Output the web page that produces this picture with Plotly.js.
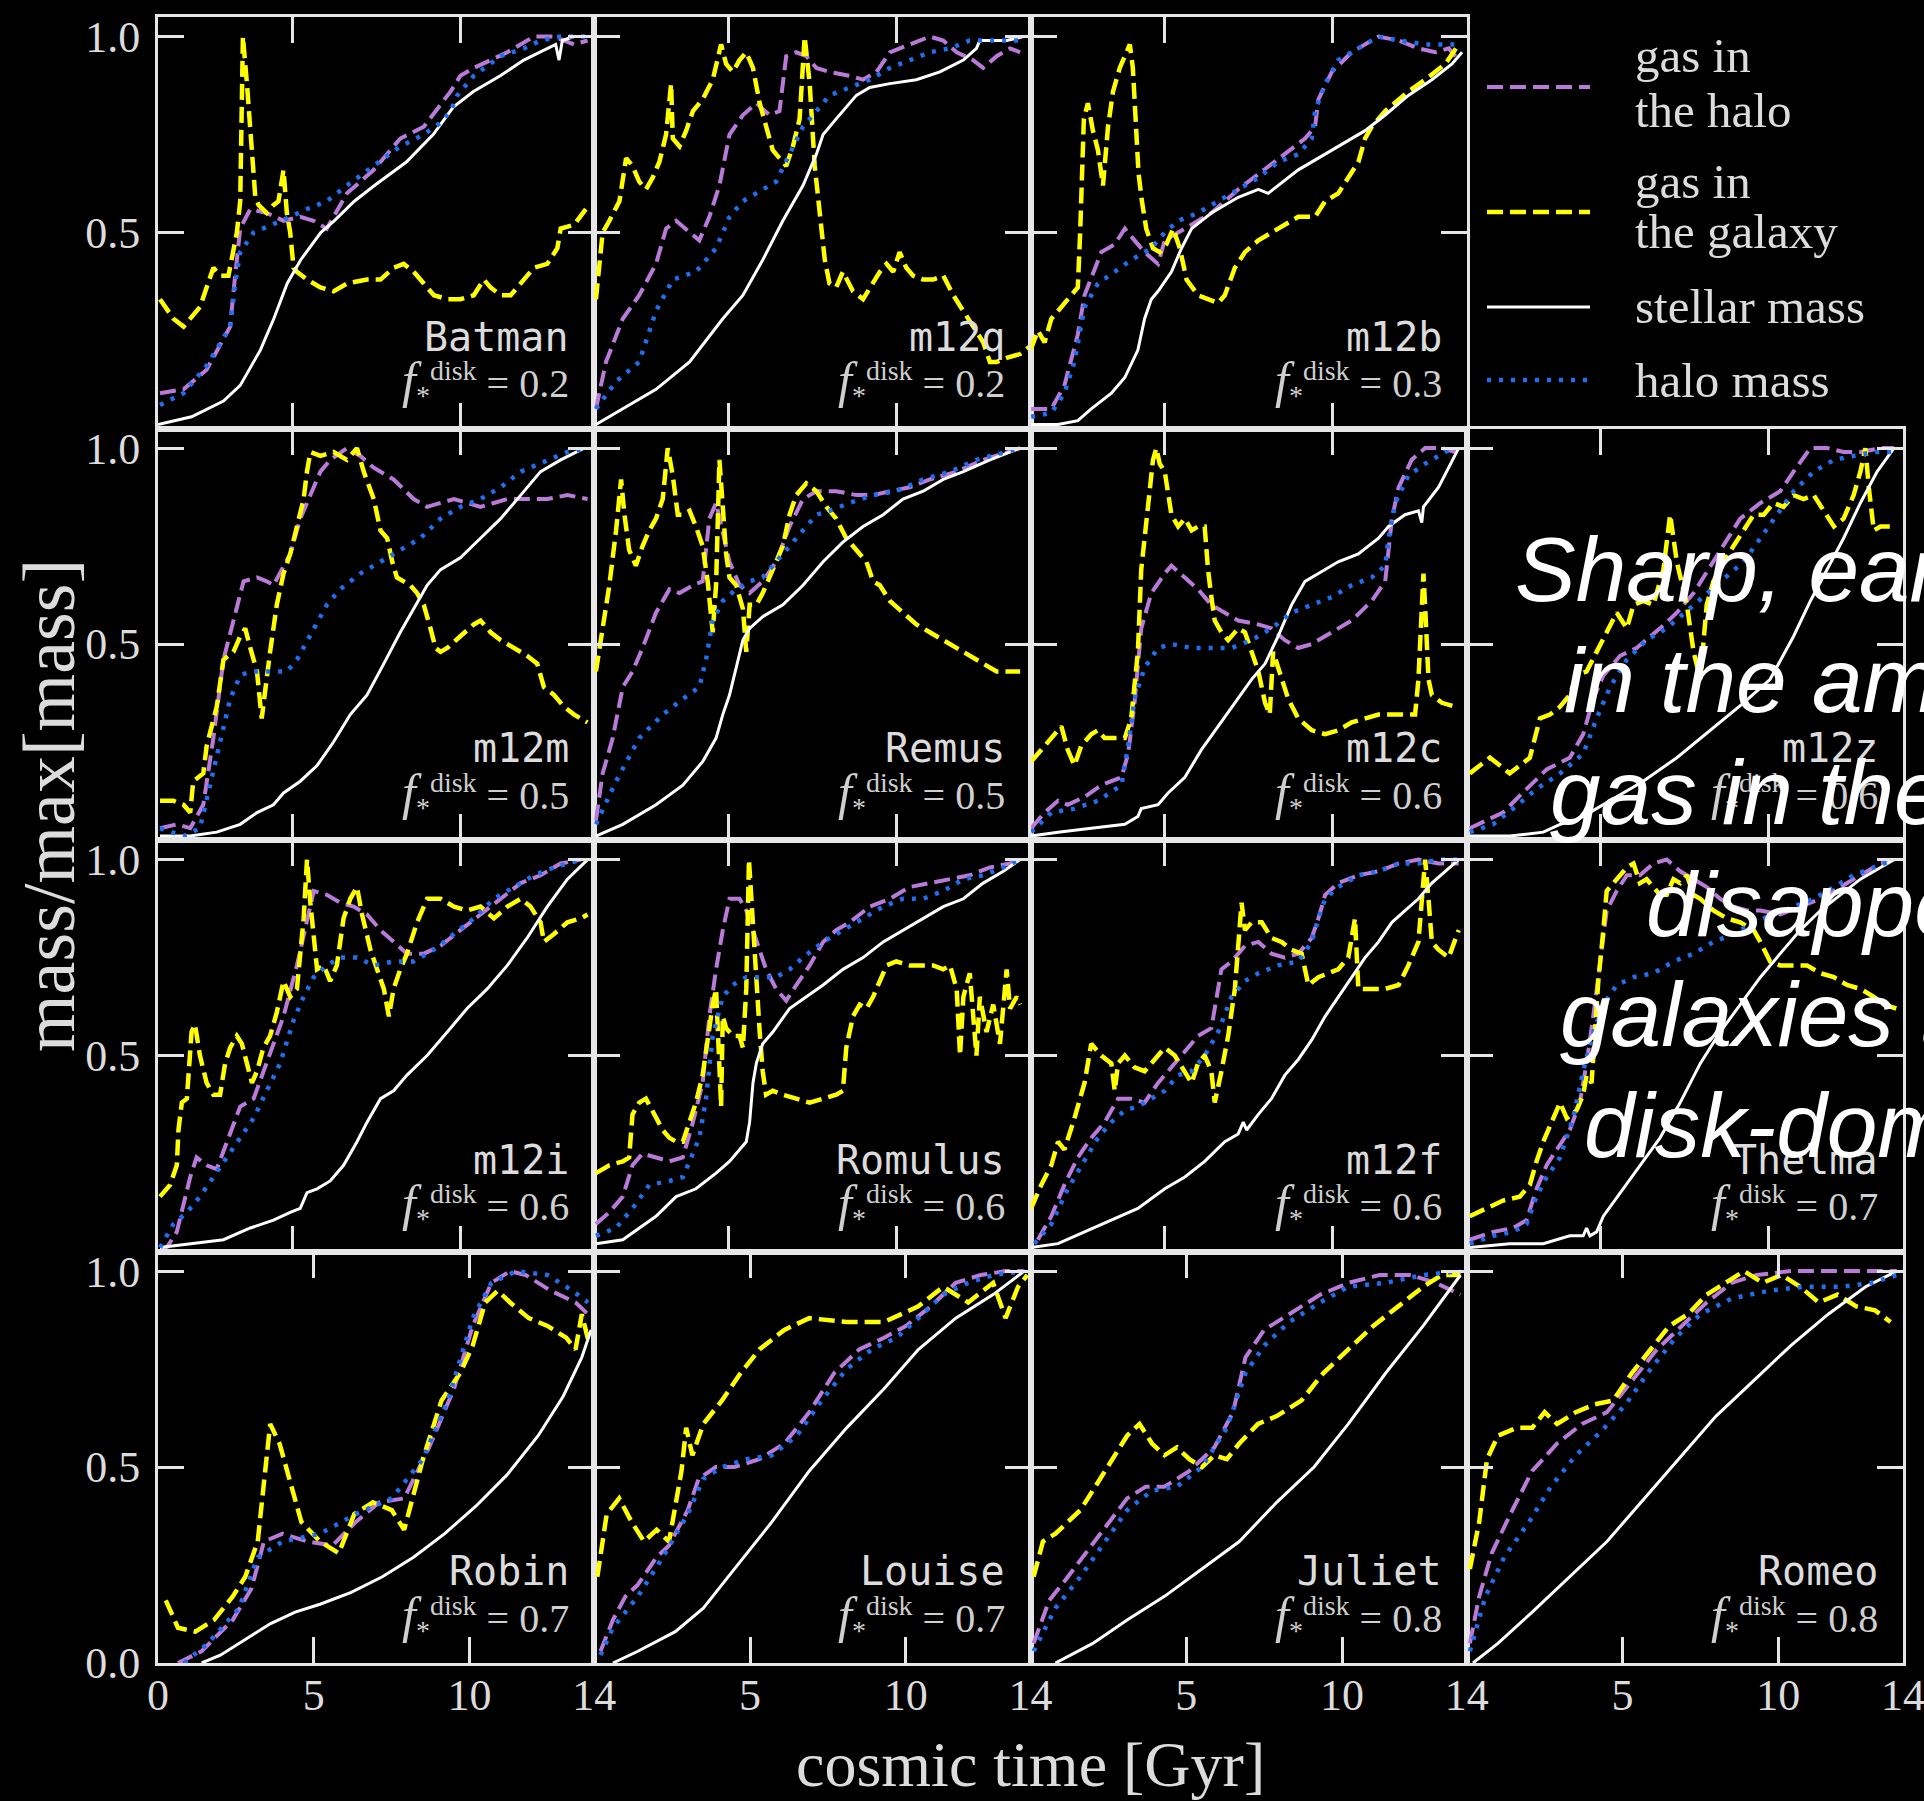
<!DOCTYPE html>
<html><head><meta charset="utf-8">
<script src="https://cdn.plot.ly/plotly-3.0.1.min.js"></script>
<style>html,body{margin:0;padding:0;background:#000;} #plot{width:1924px;height:1801px;}</style>
</head><body><div id="plot"></div>
<script>
// ---------------- DATA (cosmic time [Gyr], mass/max[mass]) ----------------
// Batman
const batman_gh_t=[1.06,1.76,2.45,3.15,3.25,3.45,3.75,4.24,4.74,5.24,5.64,6.03,6.63,7.43,8.22,8.92,9.72,10.01,10.41,11.41,12.2,12.8,13.4,13.8];
const batman_gh=[0.09,0.10,0.15,0.26,0.35,0.51,0.56,0.55,0.53,0.54,0.53,0.51,0.60,0.66,0.74,0.77,0.86,0.90,0.92,0.96,1.0,1.0,0.98,0.99];
const batman_gg_t=[1.06,1.46,1.76,2.25,2.65,2.85,3.1,3.25,3.35,3.45,3.53,3.65,3.8,3.9,4.0,4.24,4.44,4.59,4.74,4.84,4.94,5.04,5.14,5.44,5.84,6.23,6.63,7.23,7.63,8.02,8.32,8.62,8.92,9.22,9.62,10.01,10.41,10.71,10.91,11.21,11.51,11.81,12.2,12.6,12.9,13.0,13.4,13.75];
const batman_gg=[0.33,0.28,0.26,0.31,0.41,0.39,0.39,0.45,0.50,0.58,1.0,0.88,0.71,0.59,0.57,0.55,0.57,0.58,0.66,0.55,0.50,0.41,0.40,0.38,0.36,0.35,0.37,0.38,0.38,0.41,0.42,0.40,0.37,0.34,0.33,0.33,0.34,0.38,0.36,0.34,0.34,0.37,0.41,0.42,0.46,0.51,0.52,0.56];
const batman_st_t=[1.0,2.0,2.95,3.45,3.85,4.05,4.45,4.85,5.25,5.85,6.25,6.85,7.45,8.4,9.2,9.8,10.4,11.2,11.9,12.6,12.85,12.95,13.05,13.4,13.85];
const batman_st=[0.01,0.03,0.07,0.11,0.17,0.2,0.28,0.37,0.43,0.5,0.53,0.58,0.62,0.68,0.75,0.82,0.86,0.9,0.94,0.97,0.98,0.94,0.99,1.0,1.0];
const batman_hm_t=[1.06,1.76,2.45,3.15,3.3,3.45,3.85,4.44,4.94,5.44,6.03,6.63,7.43,8.22,8.92,9.42,9.72,9.92,10.41,11.21,11.91,12.4,13.0,13.8];
const batman_hm=[0.06,0.09,0.16,0.26,0.37,0.45,0.50,0.52,0.54,0.56,0.58,0.62,0.67,0.72,0.75,0.78,0.81,0.85,0.9,0.95,0.97,0.99,1.0,1.0];
// m12q
const m12q_gh_t=[1.05,1.35,1.85,2.34,2.84,3.14,3.44,3.84,4.13,4.43,4.73,5.03,5.43,5.83,6.22,6.52,6.72,7.02,7.32,7.62,8.01,8.61,9.01,9.41,9.81,10.4,11.0,11.4,11.8,12.29,12.59,12.99,13.39,13.69];
const m12q_gh=[0.05,0.17,0.28,0.34,0.42,0.51,0.53,0.5,0.48,0.54,0.62,0.75,0.8,0.83,0.8,0.81,0.95,0.96,0.95,0.92,0.91,0.9,0.89,0.91,0.96,0.98,1.0,0.99,0.96,0.94,0.92,0.95,0.97,0.96];
const m12q_gg_t=[1.05,1.25,1.45,1.75,1.95,2.14,2.34,2.54,2.74,2.94,3.14,3.29,3.34,3.54,3.74,3.94,4.23,4.53,4.78,4.93,5.13,5.33,5.53,5.73,5.93,6.12,6.32,6.52,6.72,6.92,7.12,7.27,7.42,7.57,7.72,7.87,8.01,8.21,8.41,8.71,9.01,9.31,9.51,9.71,9.91,10.1,10.3,10.5,10.8,11.1,11.4,11.7,12.0,12.29,12.59,12.79,12.99,13.29,13.69,13.99];
const m12q_gg=[0.33,0.5,0.53,0.58,0.69,0.67,0.63,0.61,0.64,0.68,0.75,0.88,0.74,0.72,0.76,0.81,0.84,0.89,0.98,0.93,0.91,0.94,0.96,0.92,0.83,0.77,0.71,0.69,0.67,0.72,0.79,1.0,0.88,0.67,0.54,0.43,0.37,0.36,0.4,0.35,0.33,0.37,0.4,0.42,0.4,0.45,0.41,0.39,0.38,0.38,0.39,0.34,0.3,0.26,0.22,0.17,0.17,0.18,0.19,0.21];
const m12q_st_t=[1.05,1.85,2.84,3.84,4.83,5.43,6.02,6.62,7.22,7.62,7.82,8.21,8.81,9.21,9.81,10.6,11.3,12.0,12.39,12.49,13.29,13.79];
const m12q_st=[0.01,0.05,0.1,0.17,0.28,0.34,0.43,0.53,0.62,0.7,0.75,0.79,0.85,0.87,0.88,0.89,0.91,0.94,0.97,0.99,0.99,1.0];
const m12q_hm_t=[1.05,1.65,2.34,2.84,3.34,4.03,4.63,5.03,5.43,6.02,6.42,6.82,7.22,7.62,8.01,8.61,9.21,9.81,10.4,11.0,11.6,12.19,12.79,13.79];
const m12q_hm=[0.05,0.12,0.17,0.3,0.38,0.4,0.46,0.54,0.58,0.61,0.63,0.7,0.77,0.81,0.85,0.87,0.89,0.92,0.94,0.96,0.97,0.99,0.99,0.99];
// m12b
const m12b_gh_t=[1.02,1.62,2.01,2.41,2.61,3.11,3.51,3.81,4.1,4.4,4.8,5.0,5.4,5.8,6.39,7.19,7.79,8.58,9.18,9.48,9.58,9.98,10.57,11.37,11.97,12.56,13.06,13.46,13.76];
const m12b_gh=[0.05,0.05,0.11,0.24,0.34,0.45,0.47,0.51,0.48,0.45,0.42,0.48,0.5,0.52,0.55,0.61,0.65,0.7,0.74,0.77,0.84,0.91,0.96,1.0,0.99,0.97,0.96,0.97,0.94];
const m12b_gg_t=[1.0,1.22,1.42,1.62,1.82,2.01,2.21,2.41,2.48,2.53,2.59,2.71,2.86,3.01,3.16,3.31,3.46,3.66,3.81,3.96,4.05,4.13,4.22,4.32,4.45,4.65,4.85,5.05,5.25,5.45,5.65,5.99,6.59,6.79,7.09,7.39,7.79,8.38,8.98,9.48,9.78,10.17,10.77,10.97,11.17,11.57,12.26,12.76,13.36,13.76];
const m12b_gg=[0.2,0.25,0.22,0.28,0.3,0.32,0.34,0.36,0.5,0.67,0.79,0.83,0.76,0.71,0.62,0.77,0.86,0.92,0.95,0.98,0.92,0.79,0.65,0.58,0.51,0.46,0.45,0.47,0.51,0.46,0.38,0.34,0.32,0.34,0.41,0.45,0.48,0.51,0.54,0.54,0.58,0.6,0.68,0.74,0.77,0.81,0.86,0.89,0.93,0.98];
const m12b_st_t=[1.02,1.82,2.41,2.81,3.41,3.81,4.2,4.4,4.6,4.8,5.2,5.5,5.8,6.39,7.19,7.79,8.08,8.38,8.98,9.78,10.57,10.97,11.57,12.26,12.96,13.56,13.86];
const m12b_st=[0.01,0.01,0.02,0.05,0.09,0.13,0.2,0.28,0.33,0.35,0.4,0.46,0.51,0.55,0.59,0.61,0.6,0.62,0.66,0.7,0.74,0.76,0.8,0.85,0.89,0.93,0.96];
const m12b_hm_t=[1.02,1.62,2.01,2.31,2.61,3.01,3.51,4.0,4.6,5.0,5.4,5.99,6.59,7.19,7.79,8.38,8.98,9.38,9.48,9.78,10.17,10.77,11.37,11.97,12.76,13.36,13.76];
const m12b_hm=[0.03,0.04,0.09,0.17,0.31,0.37,0.4,0.43,0.46,0.5,0.53,0.55,0.58,0.61,0.64,0.68,0.7,0.74,0.81,0.88,0.94,0.97,1.0,0.99,0.98,0.98,0.98];
// m12m
const m12m_gh_t=[1.06,1.56,1.96,2.35,2.65,2.95,3.25,3.55,3.95,4.24,4.44,4.64,4.94,5.24,5.54,5.84,6.13,6.63,7.03,7.43,8.02,8.62,9.02,9.42,9.82,10.21,10.61,11.01,11.41,12.0,12.6,13.2,13.8];
const m12m_gh=[0.03,0.04,0.03,0.09,0.26,0.46,0.56,0.66,0.67,0.66,0.65,0.68,0.73,0.82,0.88,0.94,0.97,1.0,0.98,0.95,0.92,0.87,0.85,0.86,0.87,0.86,0.85,0.86,0.87,0.87,0.87,0.88,0.87];
const m12m_gg_t=[1.06,1.46,1.76,1.96,2.05,2.35,2.45,2.6,2.75,2.95,3.25,3.45,3.6,3.75,3.95,4.09,4.19,4.34,4.54,4.74,4.94,5.14,5.34,5.44,5.54,5.84,6.23,6.63,6.93,7.13,7.43,7.63,7.83,7.98,8.12,8.32,8.52,8.72,8.92,9.12,9.27,9.42,9.62,10.01,10.41,10.61,10.91,11.21,11.61,12.0,12.3,12.5,12.8,13.1,13.4,13.8];
const m12m_gg=[0.1,0.1,0.09,0.07,0.15,0.17,0.24,0.29,0.34,0.46,0.48,0.52,0.54,0.49,0.43,0.31,0.37,0.48,0.6,0.68,0.73,0.8,0.87,0.94,0.99,0.98,0.99,0.97,1.0,0.94,0.87,0.79,0.77,0.71,0.67,0.66,0.65,0.63,0.6,0.54,0.49,0.48,0.49,0.52,0.55,0.56,0.53,0.51,0.49,0.47,0.45,0.39,0.37,0.34,0.32,0.3];
const m12m_st_t=[1.06,1.96,2.75,3.45,3.95,4.44,4.74,5.24,5.74,6.23,6.73,7.23,7.73,8.22,8.62,9.02,9.42,10.01,10.61,11.21,11.81,12.4,13.0,13.7];
const m12m_st=[0.01,0.01,0.02,0.04,0.07,0.09,0.12,0.15,0.19,0.25,0.32,0.37,0.45,0.53,0.59,0.65,0.69,0.72,0.77,0.82,0.88,0.94,0.97,1.0];
const m12m_hm_t=[1.06,1.76,2.25,2.55,2.85,3.15,3.45,3.75,4.24,4.84,5.14,5.64,6.03,6.43,7.03,7.63,8.22,8.82,9.42,10.01,10.61,11.21,11.81,12.4,13.2,13.8];
const m12m_hm=[0.03,0.01,0.03,0.14,0.26,0.36,0.42,0.43,0.43,0.43,0.46,0.54,0.6,0.64,0.68,0.71,0.74,0.77,0.82,0.85,0.87,0.9,0.94,0.96,0.99,1.0];
// Remus
const remus_gh_t=[1.05,1.25,1.55,1.85,2.14,2.44,2.84,3.24,3.54,3.94,4.23,4.43,4.63,4.83,5.03,5.33,5.63,6.02,6.42,6.82,7.22,7.62,8.21,8.81,9.31,9.81,10.4,11.0,11.8,12.59,13.39,13.69];
const remus_gh=[0.05,0.17,0.26,0.39,0.43,0.49,0.58,0.64,0.63,0.65,0.66,0.82,0.86,0.79,0.71,0.65,0.63,0.66,0.71,0.8,0.87,0.89,0.89,0.88,0.88,0.89,0.9,0.92,0.94,0.97,0.99,1.0];
const remus_gg_t=[1.05,1.25,1.45,1.65,1.8,1.9,2.04,2.24,2.44,2.64,2.84,3.04,3.19,3.34,3.49,3.64,3.84,4.03,4.23,4.38,4.53,4.63,4.73,4.83,4.93,5.03,5.23,5.43,5.53,5.63,5.83,6.02,6.22,6.42,6.62,6.82,7.02,7.32,7.62,7.92,8.21,8.51,8.81,9.11,9.31,9.51,9.81,10.2,10.6,11.0,11.4,11.8,12.19,12.59,12.99,13.39,13.69];
const remus_gg=[0.43,0.54,0.65,0.79,0.92,0.83,0.74,0.7,0.75,0.79,0.82,0.87,1.0,0.93,0.83,0.83,0.84,0.8,0.75,0.66,0.53,0.65,0.97,0.85,0.73,0.67,0.65,0.59,0.48,0.6,0.6,0.63,0.67,0.71,0.75,0.83,0.88,0.91,0.89,0.85,0.82,0.77,0.74,0.71,0.66,0.65,0.61,0.58,0.55,0.53,0.51,0.49,0.47,0.45,0.43,0.43,0.43];
const remus_st_t=[1.05,1.85,2.84,3.64,4.23,4.63,4.83,5.03,5.23,5.43,5.63,6.02,6.62,7.22,7.82,8.41,9.01,9.61,10.2,10.8,11.4,12.0,12.79,13.69];
const remus_st=[0.01,0.04,0.09,0.14,0.2,0.26,0.32,0.37,0.44,0.51,0.54,0.57,0.6,0.65,0.71,0.76,0.8,0.83,0.87,0.89,0.92,0.94,0.97,1.0];
const remus_hm_t=[1.05,1.65,2.34,3.04,3.64,4.13,4.33,4.53,4.83,5.23,5.63,6.02,6.42,6.82,7.22,7.62,8.01,8.61,9.31,10.0,10.8,11.6,12.39,13.19,13.69];
const remus_hm=[0.04,0.15,0.26,0.32,0.36,0.39,0.46,0.56,0.61,0.64,0.66,0.67,0.71,0.75,0.79,0.83,0.84,0.86,0.88,0.89,0.92,0.94,0.97,0.99,1.0];
// m12c
const m12c_gh_t=[1.02,1.42,1.82,2.11,2.61,3.11,3.71,3.91,4.1,4.3,4.6,5.0,5.2,5.6,5.99,6.39,6.79,7.19,7.79,8.18,8.58,8.98,9.38,9.98,10.57,11.17,11.57,11.77,11.97,12.36,12.76,13.26,13.66];
const m12c_gh=[0.03,0.07,0.1,0.09,0.11,0.14,0.16,0.22,0.35,0.54,0.63,0.68,0.7,0.67,0.64,0.6,0.58,0.56,0.55,0.54,0.51,0.49,0.5,0.53,0.56,0.61,0.66,0.82,0.9,0.97,1.0,1.0,0.99];
const m12c_gg_t=[1.02,1.32,1.62,1.92,2.11,2.31,2.51,2.81,3.01,3.21,3.51,3.81,4.0,4.2,4.3,4.5,4.65,4.75,4.85,5.0,5.2,5.4,5.6,5.8,5.99,6.19,6.29,6.39,6.49,6.69,6.89,7.19,7.39,7.59,7.79,7.99,8.13,8.23,8.38,8.68,8.98,9.38,9.78,10.17,10.57,10.97,11.37,11.77,12.16,12.46,12.56,12.66,12.71,12.78,12.86,12.96,13.26,13.66];
const m12c_gg=[0.2,0.23,0.26,0.29,0.23,0.19,0.24,0.27,0.28,0.26,0.26,0.26,0.31,0.48,0.69,0.86,0.97,1.0,0.96,0.94,0.83,0.8,0.82,0.79,0.8,0.8,0.69,0.62,0.56,0.53,0.51,0.54,0.53,0.48,0.43,0.35,0.32,0.48,0.44,0.36,0.31,0.28,0.27,0.28,0.3,0.31,0.32,0.32,0.32,0.32,0.41,0.56,0.68,0.56,0.41,0.37,0.35,0.34];
const m12c_st_t=[1.02,1.82,2.81,3.81,4.2,4.3,4.8,5.1,5.6,6.09,6.59,7.09,7.59,7.99,8.38,8.78,9.18,9.58,10.17,10.77,11.37,11.67,12.16,12.56,12.66,12.71,13.16,13.76];
const m12c_st=[0.01,0.02,0.03,0.04,0.06,0.08,0.09,0.12,0.16,0.23,0.29,0.35,0.41,0.45,0.52,0.6,0.66,0.68,0.71,0.73,0.77,0.8,0.83,0.84,0.81,0.85,0.9,1.0];
const m12c_hm_t=[1.02,1.62,2.31,3.01,3.71,3.91,4.1,4.4,4.8,5.2,5.8,6.39,6.99,7.59,8.18,8.78,9.38,9.98,10.57,11.17,11.57,11.67,11.87,12.26,12.76,13.36,13.66];
const m12c_hm=[0.02,0.07,0.08,0.1,0.14,0.24,0.36,0.44,0.49,0.5,0.49,0.49,0.49,0.51,0.54,0.58,0.6,0.62,0.65,0.67,0.7,0.77,0.86,0.93,0.96,0.99,1.0];
// m12z
const m12z_gh_t=[1.09,1.59,2.08,2.78,3.38,4.07,4.47,4.77,5.07,5.57,6.06,6.76,7.26,7.76,8.55,9.15,9.75,10.34,10.74,11.24,11.74,12.23,12.73,13.33,13.73];
const m12z_gh=[0.03,0.05,0.07,0.13,0.18,0.21,0.27,0.36,0.42,0.47,0.49,0.54,0.58,0.63,0.74,0.82,0.86,0.89,0.94,1.0,1.0,0.99,0.99,1.0,1.0];
const m12z_gg_t=[1.09,1.39,1.69,1.99,2.28,2.58,2.88,3.18,3.48,3.78,4.07,4.27,4.57,4.87,5.17,5.47,5.77,5.97,6.26,6.56,6.86,7.06,7.26,7.56,7.76,7.96,8.15,8.35,8.65,8.95,9.25,9.55,9.85,10.14,10.44,10.74,11.04,11.34,11.64,11.94,12.23,12.53,12.73,12.88,12.98,13.13,13.33,13.73];
const m12z_gg=[0.17,0.19,0.21,0.19,0.17,0.19,0.21,0.31,0.32,0.34,0.37,0.42,0.43,0.48,0.53,0.58,0.54,0.6,0.61,0.6,0.69,0.83,0.71,0.6,0.48,0.41,0.6,0.66,0.71,0.75,0.79,0.83,0.83,0.86,0.85,0.88,0.87,0.88,0.84,0.8,0.82,0.88,0.94,1.0,0.9,0.79,0.8,0.8];
const m12z_st_t=[1.09,2.28,3.28,3.78,4.27,5.27,6.26,7.26,8.25,9.25,10.04,10.74,11.24,11.74,12.23,12.73,13.23,13.73];
const m12z_st=[0.01,0.01,0.02,0.04,0.05,0.1,0.15,0.21,0.28,0.35,0.41,0.52,0.61,0.69,0.77,0.86,0.94,1.0];
const m12z_hm_t=[1.09,1.79,2.38,3.08,3.78,4.47,4.87,5.27,5.77,6.36,6.96,7.76,8.55,9.25,9.75,10.24,10.74,11.34,11.94,12.53,13.13,13.73];
const m12z_hm=[0.02,0.04,0.08,0.13,0.17,0.22,0.31,0.39,0.46,0.51,0.54,0.6,0.66,0.71,0.77,0.83,0.89,0.94,0.97,0.98,0.99,0.99];
// m12i
const m12i_gh_t=[1.06,1.26,1.56,1.76,1.96,2.15,2.45,2.75,3.05,3.45,3.85,4.14,4.44,4.74,5.14,5.44,5.64,6.03,6.43,6.83,7.23,7.63,8.02,8.42,8.92,9.42,10.01,10.61,11.21,11.81,12.4,13.0,13.6];
const m12i_gh=[0.01,0.01,0.05,0.12,0.19,0.24,0.22,0.21,0.28,0.37,0.39,0.46,0.53,0.6,0.73,0.85,0.92,0.91,0.89,0.88,0.86,0.82,0.79,0.76,0.76,0.78,0.82,0.86,0.9,0.94,0.96,0.99,1.0];
const m12i_gg_t=[1.06,1.36,1.56,1.61,1.71,1.86,2.0,2.1,2.25,2.45,2.65,2.85,3.0,3.15,3.35,3.5,3.65,3.8,3.95,4.14,4.34,4.54,4.74,4.94,5.14,5.34,5.44,5.54,5.74,5.94,6.13,6.33,6.53,6.73,6.93,7.08,7.33,7.53,7.73,7.88,8.02,8.22,8.42,8.72,9.02,9.42,9.82,10.21,10.61,11.01,11.41,11.81,12.1,12.4,12.5,12.8,13.2,13.6,13.8];
const m12i_gg=[0.14,0.17,0.22,0.31,0.38,0.39,0.56,0.58,0.5,0.43,0.4,0.4,0.48,0.52,0.55,0.53,0.48,0.43,0.46,0.52,0.55,0.61,0.69,0.65,0.67,0.85,1.0,0.89,0.72,0.73,0.69,0.73,0.85,0.9,0.93,0.86,0.77,0.72,0.67,0.6,0.67,0.72,0.76,0.84,0.9,0.9,0.88,0.87,0.88,0.85,0.88,0.9,0.88,0.84,0.79,0.81,0.84,0.85,0.86];
const m12i_st_t=[1.06,1.96,2.95,3.75,4.44,4.94,5.24,5.44,5.74,6.13,6.53,6.93,7.23,7.63,8.02,8.42,9.02,9.62,10.21,10.81,11.41,12.0,12.6,13.2,13.8];
const m12i_st=[0.01,0.02,0.03,0.06,0.08,0.1,0.11,0.15,0.16,0.18,0.22,0.28,0.33,0.39,0.41,0.45,0.5,0.56,0.62,0.67,0.73,0.8,0.88,0.95,1.0];
const m12i_hm_t=[1.06,1.46,1.86,2.25,2.65,3.05,3.45,3.85,4.24,4.64,5.04,5.34,5.64,6.03,6.43,6.93,7.43,8.02,8.62,9.22,9.82,10.41,11.01,11.61,12.2,12.8,13.6];
const m12i_hm=[0.01,0.07,0.1,0.14,0.19,0.24,0.29,0.34,0.41,0.48,0.59,0.65,0.7,0.73,0.75,0.75,0.73,0.74,0.74,0.77,0.81,0.85,0.9,0.93,0.96,0.98,1.0];
// Romulus
const romulus_gh_t=[1.05,1.45,1.85,2.14,2.44,2.84,3.24,3.64,3.94,4.23,4.43,4.63,4.83,5.03,5.33,5.53,5.73,5.93,6.12,6.42,6.72,7.02,7.42,7.82,8.21,8.61,9.21,9.81,10.4,11.0,11.6,12.19,12.79,13.39,13.69];
const romulus_gh=[0.07,0.1,0.14,0.22,0.25,0.24,0.23,0.24,0.33,0.43,0.6,0.72,0.82,0.9,0.9,0.87,0.82,0.77,0.72,0.67,0.64,0.68,0.73,0.79,0.82,0.84,0.88,0.9,0.93,0.94,0.95,0.96,0.98,0.99,1.0];
const romulus_gg_t=[1.05,1.45,1.85,2.04,2.14,2.34,2.54,2.74,3.04,3.24,3.44,3.64,3.84,4.03,4.23,4.38,4.53,4.63,4.73,4.78,4.83,4.93,5.13,5.33,5.43,5.53,5.61,5.73,5.83,5.93,6.02,6.12,6.32,6.62,7.02,7.42,7.82,8.21,8.41,8.51,8.71,8.91,9.11,9.31,9.51,9.71,10.0,10.4,10.8,11.1,11.4,11.6,11.8,11.9,12.0,12.19,12.39,12.49,12.69,12.89,13.09,13.29,13.39,13.59,13.69];
const romulus_gg=[0.2,0.22,0.23,0.24,0.35,0.38,0.39,0.36,0.31,0.29,0.28,0.28,0.33,0.38,0.45,0.55,0.63,0.67,0.48,0.37,0.6,0.57,0.55,0.55,0.52,0.67,1.0,0.82,0.69,0.56,0.46,0.4,0.41,0.4,0.39,0.38,0.39,0.4,0.41,0.52,0.6,0.63,0.62,0.65,0.69,0.73,0.74,0.73,0.73,0.73,0.72,0.73,0.67,0.5,0.65,0.71,0.5,0.65,0.56,0.63,0.53,0.72,0.62,0.65,0.63];
const romulus_st_t=[1.05,1.85,2.84,3.44,4.03,4.63,5.03,5.33,5.53,5.63,5.73,5.83,6.02,6.32,6.82,7.32,7.82,8.41,9.01,9.61,10.2,10.8,11.4,12.0,12.59,13.19,13.69];
const romulus_st=[0.02,0.03,0.09,0.14,0.16,0.2,0.23,0.26,0.28,0.33,0.43,0.48,0.53,0.56,0.62,0.65,0.68,0.72,0.75,0.79,0.82,0.85,0.88,0.9,0.94,0.97,1.0];
const romulus_hm_t=[1.05,1.65,2.14,2.64,3.24,3.64,3.84,4.13,4.33,4.53,4.83,5.13,5.53,6.02,6.42,6.82,7.22,7.82,8.41,9.01,9.61,10.2,10.8,11.4,12.0,12.59,13.19,13.69];
const romulus_hm=[0.04,0.06,0.11,0.17,0.18,0.19,0.23,0.29,0.39,0.55,0.65,0.68,0.7,0.7,0.7,0.72,0.75,0.79,0.82,0.85,0.88,0.9,0.9,0.92,0.95,0.96,0.98,1.0];
// m12f
const m12f_gh_t=[1.22,1.62,2.01,2.41,2.81,3.21,3.61,4.0,4.4,4.8,5.2,5.6,5.99,6.39,6.69,6.99,7.39,7.79,8.18,8.58,8.98,9.38,9.58,9.78,10.17,10.77,11.37,11.97,12.56,13.16,13.76];
const m12f_gh=[0.03,0.09,0.17,0.24,0.29,0.33,0.39,0.39,0.38,0.43,0.47,0.51,0.55,0.57,0.72,0.74,0.78,0.79,0.76,0.75,0.76,0.8,0.85,0.91,0.94,0.96,0.97,0.99,1.0,0.99,0.99];
const m12f_gg_t=[1.02,1.32,1.62,1.82,2.01,2.31,2.61,2.81,3.11,3.41,3.51,3.61,3.81,4.1,4.4,4.7,5.0,5.3,5.6,5.8,5.99,6.19,6.39,6.49,6.69,6.89,7.09,7.29,7.39,7.59,7.89,8.18,8.48,8.78,9.08,9.28,9.58,9.88,10.17,10.47,10.67,10.77,11.17,11.57,11.97,12.26,12.56,12.76,12.86,12.96,13.16,13.46,13.76];
const m12f_gg=[0.11,0.17,0.22,0.28,0.26,0.34,0.43,0.53,0.5,0.48,0.41,0.48,0.5,0.47,0.46,0.49,0.52,0.5,0.46,0.43,0.48,0.5,0.46,0.38,0.46,0.55,0.67,0.89,0.82,0.84,0.84,0.8,0.79,0.77,0.76,0.68,0.7,0.71,0.72,0.75,0.85,0.67,0.67,0.67,0.68,0.73,0.79,1.0,0.9,0.79,0.77,0.75,0.82];
const m12f_st_t=[1.02,1.82,2.61,3.41,4.2,5.0,5.6,6.19,6.79,7.19,7.34,7.44,7.79,8.18,8.58,8.98,9.38,9.78,10.17,10.57,10.97,11.37,11.77,12.16,12.56,12.96,13.36,13.76];
const m12f_st=[0.01,0.02,0.05,0.08,0.11,0.16,0.19,0.23,0.28,0.3,0.33,0.31,0.35,0.39,0.45,0.49,0.54,0.6,0.65,0.7,0.75,0.79,0.84,0.87,0.9,0.94,0.97,1.0];
const m12f_hm_t=[1.12,1.62,2.11,2.51,3.01,3.41,3.81,4.2,4.6,5.0,5.4,5.8,6.19,6.59,6.99,7.39,7.79,8.38,8.98,9.38,9.58,9.78,10.17,10.77,11.37,11.97,12.56,13.16,13.76];
const m12f_hm=[0.02,0.07,0.16,0.22,0.29,0.33,0.36,0.37,0.39,0.41,0.45,0.46,0.5,0.56,0.65,0.69,0.71,0.73,0.74,0.79,0.85,0.9,0.93,0.96,0.97,0.99,0.99,1.0,1.0];
// Thelma
const thelma_gh_t=[1.09,1.79,2.38,2.78,3.08,3.38,3.68,4.07,4.37,4.57,4.77,4.97,5.17,5.47,5.77,6.16,6.56,6.96,7.36,7.76,8.15,8.55,8.95,9.35,9.75,10.34,10.94,11.54,12.13,12.73,13.33,13.73];
const thelma_gh=[0.03,0.05,0.06,0.08,0.16,0.22,0.26,0.31,0.38,0.48,0.6,0.73,0.87,0.92,0.96,0.96,0.99,1.0,0.97,0.95,0.93,0.9,0.88,0.87,0.87,0.86,0.88,0.9,0.93,0.96,0.99,1.0];
const thelma_gg_t=[1.09,1.59,2.08,2.58,2.88,3.08,3.28,3.58,3.78,3.98,4.27,4.47,4.57,4.72,4.82,4.92,5.07,5.17,5.37,5.57,5.77,5.97,6.16,6.36,6.56,6.76,6.96,7.16,7.36,7.56,7.76,7.96,8.35,8.75,9.15,9.55,9.75,10.04,10.34,10.74,11.14,11.54,11.94,12.33,12.73,13.13,13.43,13.8];
const thelma_gg=[0.09,0.11,0.13,0.14,0.17,0.23,0.28,0.34,0.38,0.34,0.36,0.4,0.45,0.43,0.56,0.69,0.82,0.92,0.94,0.96,0.98,0.99,0.94,0.95,0.93,0.91,0.91,0.95,0.94,0.96,0.91,0.9,0.87,0.85,0.84,0.82,0.79,0.74,0.73,0.73,0.73,0.71,0.7,0.68,0.67,0.65,0.63,0.62];
const thelma_st_t=[1.09,2.28,3.28,4.07,4.47,4.57,4.67,4.87,5.07,5.57,6.16,6.76,7.36,7.96,8.55,9.15,9.75,10.34,10.94,11.54,12.13,12.73,13.33,13.73];
const thelma_st=[0.01,0.02,0.02,0.04,0.04,0.06,0.04,0.05,0.09,0.15,0.22,0.29,0.38,0.48,0.56,0.63,0.7,0.76,0.82,0.87,0.91,0.95,0.98,1.0];
const thelma_hm_t=[1.09,1.79,2.38,2.78,3.08,3.38,3.78,4.17,4.47,4.77,5.07,5.47,5.97,6.56,7.16,7.76,8.35,8.95,9.55,10.14,10.74,11.34,11.94,12.53,13.13,13.73];
const thelma_hm=[0.02,0.04,0.05,0.07,0.14,0.19,0.24,0.34,0.46,0.56,0.63,0.68,0.7,0.71,0.74,0.76,0.79,0.81,0.84,0.86,0.88,0.9,0.93,0.96,0.98,1.0];
// Robin
const robin_gh_t=[0.64,1.4,2.4,3.0,3.4,4.0,4.8,5.6,6.35,7.1,7.9,8.7,9.5,10.1,10.7,11.3,11.8,12.6,13.4,13.8];
const robin_gh=[0.0,0.03,0.11,0.19,0.31,0.33,0.31,0.3,0.36,0.41,0.42,0.55,0.7,0.86,0.97,1.0,0.99,0.95,0.92,0.89];
const robin_gg_t=[0.25,0.64,1.2,1.8,2.4,2.8,3.2,3.4,3.6,3.9,4.2,4.6,5.2,5.8,6.3,6.9,7.5,7.9,8.5,9.1,9.7,10.1,10.5,10.9,11.3,11.9,12.5,13.1,13.4,13.6,13.85];
const robin_gg=[0.16,0.09,0.08,0.11,0.17,0.22,0.31,0.47,0.61,0.56,0.47,0.36,0.31,0.28,0.38,0.41,0.39,0.34,0.52,0.67,0.74,0.81,0.92,0.95,0.92,0.88,0.86,0.83,0.8,0.89,0.81];
const robin_st_t=[1.4,2.0,2.8,3.6,4.4,5.2,6.2,7.2,8.2,9.2,10.2,11.2,12.2,13.0,13.6,13.9];
const robin_st=[0.0,0.02,0.06,0.1,0.13,0.15,0.18,0.22,0.27,0.33,0.4,0.48,0.58,0.68,0.78,0.85];
const robin_hm_t=[0.84,1.6,2.6,3.2,4.0,5.2,6.35,7.5,8.5,9.3,10.1,10.7,11.5,12.5,13.3,13.8];
const robin_hm=[0.0,0.05,0.14,0.27,0.31,0.33,0.38,0.42,0.52,0.67,0.88,0.97,1.0,0.99,0.95,0.92];
// Louise
const louise_gh_t=[0.2,0.6,1.0,1.4,2.0,2.4,3.0,3.35,3.9,4.5,5.3,6.1,6.9,7.7,8.5,9.3,10.0,10.8,11.6,12.4,13.2,13.8];
const louise_gh=[0.03,0.11,0.17,0.2,0.27,0.3,0.39,0.47,0.5,0.5,0.52,0.56,0.64,0.74,0.8,0.83,0.86,0.91,0.97,0.99,1.0,1.0];
const louise_gg_t=[0.1,0.4,0.8,1.2,1.6,2.0,2.4,2.8,2.95,3.15,3.5,4.1,4.7,5.3,6.1,6.9,8.1,9.3,10.4,11.2,12.0,12.8,13.2,13.6,13.9];
const louise_gg=[0.22,0.38,0.42,0.36,0.31,0.34,0.31,0.49,0.6,0.53,0.61,0.67,0.74,0.8,0.85,0.88,0.87,0.87,0.91,0.96,0.92,0.97,0.88,0.96,0.99];
const louise_st_t=[0.6,1.4,2.6,3.5,4.5,5.7,6.9,8.1,9.3,10.4,11.6,12.8,13.8];
const louise_st=[0.0,0.03,0.08,0.14,0.24,0.36,0.49,0.6,0.7,0.8,0.88,0.94,1.0];
const louise_hm_t=[0.2,0.6,1.4,2.2,3.0,3.5,4.1,4.9,5.7,6.5,7.3,8.1,8.9,9.7,10.4,11.2,12.0,12.8,13.8];
const louise_hm=[0.02,0.09,0.17,0.27,0.38,0.47,0.5,0.52,0.53,0.58,0.67,0.75,0.8,0.83,0.88,0.94,0.97,0.99,1.0];
// Juliet
const juliet_gh_t=[0.1,0.6,1.2,1.95,2.55,3.1,3.7,4.3,5.1,5.9,6.5,6.9,7.5,8.3,9.3,10.2,11.2,12.2,13.0,13.8];
const juliet_gh=[0.05,0.16,0.22,0.3,0.36,0.42,0.45,0.45,0.49,0.55,0.64,0.78,0.85,0.89,0.94,0.97,0.99,0.99,0.97,0.94];
const juliet_gg_t=[0.1,0.4,0.8,1.2,1.6,2.0,2.4,2.7,3.1,3.5,3.9,4.3,4.7,5.1,5.5,5.9,6.3,6.7,7.3,7.9,8.7,9.4,10.2,11.0,11.8,12.6,13.2,13.8];
const juliet_gg=[0.22,0.31,0.33,0.36,0.39,0.44,0.49,0.53,0.58,0.61,0.56,0.53,0.55,0.52,0.5,0.53,0.52,0.56,0.61,0.63,0.67,0.74,0.8,0.86,0.91,0.96,0.99,0.99];
const juliet_st_t=[0.8,2.0,3.1,4.3,5.5,6.7,7.9,9.1,10.2,11.4,12.6,13.8];
const juliet_st=[0.0,0.05,0.11,0.17,0.24,0.31,0.41,0.5,0.61,0.74,0.86,0.99];
const juliet_hm_t=[0.1,0.8,1.6,2.3,3.1,3.9,4.7,5.5,6.3,6.9,7.5,8.3,9.3,10.2,11.4,12.6,13.8];
const juliet_hm=[0.03,0.14,0.22,0.3,0.39,0.44,0.45,0.5,0.6,0.74,0.81,0.87,0.92,0.96,0.97,0.99,1.0];
// Romeo
const romeo_gh_t=[0.1,0.4,0.8,1.4,2.1,2.9,3.7,4.5,5.3,6.1,6.9,7.7,8.5,9.3,10.4,11.6,12.8,13.8];
const romeo_gh=[0.05,0.17,0.28,0.38,0.49,0.56,0.61,0.64,0.72,0.8,0.86,0.92,0.97,0.99,1.0,1.0,1.0,1.0];
const romeo_gg_t=[0.1,0.4,0.65,1.0,1.6,2.1,2.5,2.9,3.5,4.1,4.7,5.3,5.9,6.5,7.1,7.7,8.3,8.9,9.5,10.1,10.7,11.3,11.9,12.5,13.1,13.6];
const romeo_gg=[0.24,0.36,0.52,0.58,0.6,0.6,0.64,0.61,0.64,0.66,0.67,0.74,0.8,0.86,0.89,0.94,0.97,1.0,0.97,0.99,0.96,0.92,0.94,0.91,0.9,0.87];
const romeo_st_t=[0.2,1.0,2.1,3.3,4.5,5.7,6.9,8.0,9.2,10.4,11.6,12.8,13.8];
const romeo_st=[0.0,0.05,0.13,0.22,0.31,0.42,0.53,0.63,0.72,0.81,0.89,0.96,1.0];
const romeo_hm_t=[0.1,0.6,1.2,2.0,2.7,3.5,4.3,5.1,5.9,6.7,7.5,8.5,9.7,10.8,12.0,13.0,13.8];
const romeo_hm=[0.03,0.17,0.27,0.36,0.45,0.53,0.59,0.66,0.75,0.83,0.89,0.93,0.95,0.96,0.96,0.97,0.99];

// panel labels
const galaxyNames=['Batman','m12q','m12b','m12m','Remus','m12c','m12z','m12i','Romulus','m12f','Thelma','Robin','Louise','Juliet','Romeo'];
const fDisk=['0.2','0.2','0.3','0.5','0.5','0.6','0.6','0.6','0.6','0.6','0.7','0.7','0.7','0.8','0.8'];
const xTicks=[0,5,10,14];
const yTicks=[0,0.5,1.0];
const seriesNames=['gas in the halo','gas in the galaxy','stellar mass','halo mass'];
const noteLines=['Sharp, early peaks','in the amount of','gas in the galaxy','disappear in','galaxies that are','disk-dominated'];

// ---------------- FIGURE ----------------
const W=1924,H=1801,M={l:158,r:21,t:17,b:138};
const PW=W-M.l-M.r, PH=H-M.t-M.b;
const px=X=>(X-M.l)/PW, py=Y=>(H-M.b-Y)/PH;

const panelData=[
 [batman_gh_t,batman_gh,batman_gg_t,batman_gg,batman_st_t,batman_st,batman_hm_t,batman_hm],
 [m12q_gh_t,m12q_gh,m12q_gg_t,m12q_gg,m12q_st_t,m12q_st,m12q_hm_t,m12q_hm],
 [m12b_gh_t,m12b_gh,m12b_gg_t,m12b_gg,m12b_st_t,m12b_st,m12b_hm_t,m12b_hm],
 [m12m_gh_t,m12m_gh,m12m_gg_t,m12m_gg,m12m_st_t,m12m_st,m12m_hm_t,m12m_hm],
 [remus_gh_t,remus_gh,remus_gg_t,remus_gg,remus_st_t,remus_st,remus_hm_t,remus_hm],
 [m12c_gh_t,m12c_gh,m12c_gg_t,m12c_gg,m12c_st_t,m12c_st,m12c_hm_t,m12c_hm],
 [m12z_gh_t,m12z_gh,m12z_gg_t,m12z_gg,m12z_st_t,m12z_st,m12z_hm_t,m12z_hm],
 [m12i_gh_t,m12i_gh,m12i_gg_t,m12i_gg,m12i_st_t,m12i_st,m12i_hm_t,m12i_hm],
 [romulus_gh_t,romulus_gh,romulus_gg_t,romulus_gg,romulus_st_t,romulus_st,romulus_hm_t,romulus_hm],
 [m12f_gh_t,m12f_gh,m12f_gg_t,m12f_gg,m12f_st_t,m12f_st,m12f_hm_t,m12f_hm],
 [thelma_gh_t,thelma_gh,thelma_gg_t,thelma_gg,thelma_st_t,thelma_st,thelma_hm_t,thelma_hm],
 [robin_gh_t,robin_gh,robin_gg_t,robin_gg,robin_st_t,robin_st,robin_hm_t,robin_hm],
 [louise_gh_t,louise_gh,louise_gg_t,louise_gg,louise_st_t,louise_st,louise_hm_t,louise_hm],
 [juliet_gh_t,juliet_gh,juliet_gg_t,juliet_gg,juliet_st_t,juliet_st,juliet_hm_t,juliet_hm],
 [romeo_gh_t,romeo_gh,romeo_gg_t,romeo_gg,romeo_st_t,romeo_st,romeo_hm_t,romeo_hm]
];
const positions=[[0,0],[0,1],[0,2],[1,0],[1,1],[1,2],[1,3],[2,0],[2,1],[2,2],[2,3],[3,0],[3,1],[3,2],[3,3]];

const STY=[
 {color:'#b97ad9',width:4,dash:'16px,7px'},
 {color:'#ffff00',width:4.5,dash:'16px,7px'},
 {color:'#ffffff',width:3,dash:'solid'},
 {color:'#1f6ff0',width:4.5,dash:'4px,8px'}
];
const FG='#e6e6e6', TXT='#dcdcdc';
const traces=[], layout={
 width:W,height:H,margin:M,paper_bgcolor:'#000',plot_bgcolor:'#000',
 showlegend:false,font:{family:'Liberation Serif',color:TXT,size:40},
 annotations:[],shapes:[]
};
const axCommon={showline:true,linecolor:FG,linewidth:3,mirror:'ticks',ticks:'inside',ticklen:26,tickwidth:3,tickcolor:FG,
 showgrid:false,zeroline:false,fixedrange:true,ticklabeloverflow:'allow',tickfont:{family:'Liberation Serif',size:44,color:TXT}};

positions.forEach(([row,col],i)=>{
 const n=i+1, xs=n===1?'':String(n);
 const xd=[col/4,(col+1)/4], yd=[1-(row+1)/4,1-row/4];
 const bottom=row===3;
 layout['xaxis'+xs]=Object.assign({},axCommon,{domain:xd,anchor:'y'+xs,range:bottom?[0,14]:[1,14],
   tickmode:'array',tickvals:bottom?xTicks:xTicks.slice(1,3),
   ticktext:bottom?xTicks.map((v,k)=>(k===0&&col!==0)?'':String(v)):['5','10'],
   showticklabels:bottom,ticklabelstandoff:-9});
 layout['yaxis'+xs]=Object.assign({},axCommon,{domain:yd,anchor:'x'+xs,range:[0,1.05],
   tickmode:'array',tickvals:yTicks,
   ticktext:yTicks.map((v,k)=>(k===0&&!bottom)?'':v.toFixed(1)),
   showticklabels:col===0,ticklabelstandoff:6});
 const d=panelData[i];
 for(let s=0;s<4;s++){
  traces.push({type:'scatter',mode:'lines',x:d[2*s],y:d[2*s+1],xaxis:'x'+xs,yaxis:'y'+xs,
   name:seriesNames[s],line:Object.assign({},STY[s]),hoverinfo:'skip'});
 }
 layout.annotations.push({xref:'x'+xs+' domain',yref:'y'+xs+' domain',x:1-23/436,y:92/411.5,xanchor:'right',yanchor:'middle',
   text:galaxyNames[i],showarrow:false,font:{family:'DejaVu Sans Mono',size:40,color:TXT}});
 layout.annotations.push({xref:'x'+xs+' domain',yref:'y'+xs+' domain',x:1-23/436,y:47/411.5,xanchor:'right',yanchor:'middle',
   text:'<span style="font-size:50px"><i>f</i></span><sub>*</sub><sup>disk</sup> = '+fDisk[i],showarrow:false,font:{family:'Liberation Serif',size:40,color:'#cfcfcf'}});
});

// axis titles
layout.annotations.push({xref:'paper',yref:'paper',x:px(1030),y:py(1764),xanchor:'center',yanchor:'middle',showarrow:false,
  text:'cosmic time [Gyr]',font:{family:'Liberation Serif',size:64,color:TXT}});
layout.annotations.push({xref:'paper',yref:'paper',x:px(49),y:py(806),xanchor:'center',yanchor:'middle',showarrow:false,textangle:-90,
  text:'mass/max[mass]',font:{family:'Liberation Serif',size:74,color:TXT}});

// legend (top-right empty cell)
const legY=[87,212,307,380];
legY.forEach((y,s)=>{
  layout.shapes.push({type:'line',xref:'paper',yref:'paper',x0:px(1487),x1:px(1590),y0:py(y),y1:py(y),
    line:{color:STY[s].color,width:STY[s].width,dash:STY[s].dash}});
});
const legText=[['gas in',55.5],['the halo',110.5],['gas in',181.5],['the galaxy',231.5],['stellar mass',306.5],['halo mass',380.5]];
legText.forEach(([t,y])=>layout.annotations.push({xref:'paper',yref:'paper',x:px(1633),y:py(y),xanchor:'left',yanchor:'middle',
  showarrow:false,text:t,font:{family:'Liberation Serif',size:49,color:TXT}}));

// overlaid slide note (centred beyond right edge, clipped by the page)
const noteY=[569,680,792,904,1015,1125];
noteLines.forEach((t,k)=>layout.annotations.push({xref:'paper',yref:'paper',x:px(1894),y:py(noteY[k]),xanchor:'center',yanchor:'middle',
  showarrow:false,text:'<i>'+t+'</i>',font:{family:'Liberation Sans',size:91,color:'#ffffff'}}));

Plotly.newPlot('plot',traces,layout,{staticPlot:true});
</script></body></html>
